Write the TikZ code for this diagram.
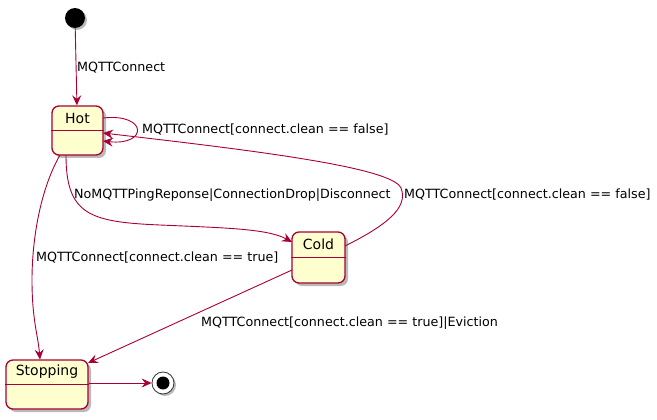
\documentclass[tikz,border=0pt]{standalone}
\usepackage{fontspec}
\setmainfont{DejaVu Sans}
\usetikzlibrary{arrows.meta,shadows,calc}
\definecolor{stfill}{HTML}{FEFECE}
\definecolor{stline}{HTML}{A80036}
\tikzset{
  state/.style={draw=stline, fill=stfill, line width=1.3pt, rounded corners=7pt,
    drop shadow={shadow xshift=3pt, shadow yshift=-3pt, fill=black!45, opacity=0.6},
    inner sep=0pt},
  divider/.style={draw=stline, line width=1pt},
  ttl/.style={font=\fontsize{14}{16}\selectfont, inner sep=0pt},
  arr/.style={draw=stline, line width=0.9pt, -{Stealth[length=10pt,width=9pt,inset=3.5pt]}},
  lbl/.style={font=\fontsize{12.7}{14}\selectfont, inner sep=0pt, anchor=west, text=black},
}
\begin{document}
\begin{tikzpicture}[x=1pt,y=-1pt]
\useasboundingbox (0,0) rectangle (657,420);
% states
\node[state, minimum width=51pt, minimum height=49pt] (hot) at (77.5,130.5) {};
\draw[divider] ($(hot.north west)+(0,25)$) -- ($(hot.north east)+(0,25)$);
\node[ttl] (hott) at ($(hot.north)+(0,13)$) {Hot};

\node[state, minimum width=53pt, minimum height=51pt] (cold) at (318.5,257.5) {};
\draw[divider] ($(cold.north west)+(0,26)$) -- ($(cold.north east)+(0,26)$);
\node[ttl] (coldt) at ($(cold.north)+(0,13)$) {Cold};

\node[state, minimum width=82pt, minimum height=49pt] (stop) at (47,384.5) {};
\draw[divider] ($(stop.north west)+(0,25)$) -- ($(stop.north east)+(0,25)$);
\node[ttl] (stopt) at ($(stop.north)+(0,12.5)$) {Stopping};

% initial / final
\node[circle, fill=black, minimum size=20pt, inner sep=0pt,
  drop shadow={shadow xshift=2pt, shadow yshift=-2pt, fill=black!45, opacity=0.6}] (init) at (75,18) {};
\node[circle, draw=black!80, fill=white, line width=0.8pt, minimum size=22pt, inner sep=0pt,
  drop shadow={shadow xshift=2pt, shadow yshift=-2pt, fill=black!45, opacity=0.6}] (fin) at (163,383) {};
\node[circle, fill=black, minimum size=13pt, inner sep=0pt] (fininner) at (fin) {};

% coordinates
\coordinate (hotloopA) at (103,118);
\coordinate (hotloopB) at (103,141);
\coordinate (hotin) at (103,133);
\coordinate (hotbotR) at (66,155);
\coordinate (hotbotL) at (60,155);
\coordinate (coldin) at (292,242);
\coordinate (coldout) at (345,246);
\coordinate (coldbl) at (292,270);
\coordinate (stopin) at (40,359.5);
\coordinate (stopinR) at (88,363);

% edges
\draw[arr] (init) -- (hot);
\node[lbl] (l1) at (77,68) {MQTTConnect};
\draw[arr] (hotloopA) .. controls (148,113) and (148,146) .. (hotloopB);
\node[lbl] (l2) at (142,130) {MQTTConnect[connect.clean == false]};

\draw[arr] (coldout) .. controls (385,226) and (409,208) .. (401,188)
  .. controls (392,167) and (250,150) .. (hotin);
\node[lbl] (l3) at (404,195) {MQTTConnect[connect.clean == false]};

\draw[arr] (hotbotR) .. controls (66,215) and (90,222) .. (160,225)
  .. controls (230,228) and (268,229) .. (coldin);
\node[lbl] (l4) at (74,195) {NoMQTTPingReponse|ConnectionDrop|Disconnect};

\draw[arr] (hotbotL) .. controls (40,190) and (32,240) .. (32,280)
  .. controls (32,320) and (38,335) .. (stopin);
\node[lbl] (l5) at (36,258) {MQTTConnect[connect.clean == true]};

\draw[arr] (coldbl) -- (stopinR);
\node[lbl] (l6) at (201,323) {MQTTConnect[connect.clean == true]|Eviction};

\draw[arr] (stop.east |- fin) -- (fin);
\end{tikzpicture}
\end{document}
